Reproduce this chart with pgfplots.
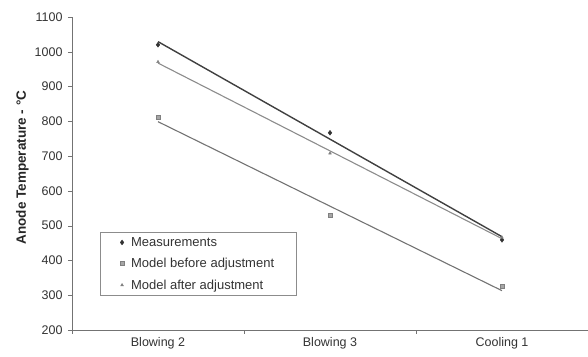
\documentclass[border=0pt]{standalone}
\usepackage{pgfplots}
\usepackage{pgfplotstable}
\pgfplotsset{compat=1.18}
\usepackage{fontspec}
\setmainfont{Liberation Sans}
\usetikzlibrary{calc}
\pgfplotstableread{
x meas before after
0 1020 812 971
1 767 530 708
2 459 326 466
}\data
\begin{document}
\begin{tikzpicture}
\begin{axis}[
  scale only axis, width=516pt, height=313pt,
  xmin=-0.5, xmax=2.5, ymin=200, ymax=1100,
  axis x line*=bottom, axis y line*=left,
  axis line style={black!55},
  tick align=outside, major tick length=4pt,
  tick style={black!55},
  xtick={-0.5,0.5,1.5,2.5}, xticklabels={},
  extra x ticks={0,1,2},
  extra x tick labels={Blowing 2,Blowing 3,Cooling 1},
  extra x tick style={major tick length=0pt, xticklabel style={yshift=-4pt}},
  ytick={200,300,...,1100},
  /pgf/number format/assume math mode=true,
  /pgf/number format/1000 sep={},
  tick label style={font=\fontsize{12.5}{14}\selectfont, color=black!80},
  yticklabel style={xshift=-2pt},
  ylabel={\bfseries Anode Temperature - °C},
  ylabel style={font=\fontsize{13.5}{15}\selectfont, color=black!85, yshift=-1pt, xshift=6pt},
  legend style={at={(0.054,0.313)}, anchor=north west, draw=black!45,
    font=\fontsize{13}{15}\selectfont, text=black!80, row sep=6.5pt,
    inner xsep=20pt, inner ysep=3pt, legend cell align=left,
    /tikz/every odd column/.append style={column sep=5pt}},
  clip=false,
]
\addplot[only marks, mark=diamond*, mark size=2.4pt, black!80] table[x=x,y=meas] {\data};
\addlegendentry{Measurements}
\addplot[only marks, mark=square*, mark size=2pt, draw=black!50, fill=black!35] table[x=x,y=before] {\data};
\addlegendentry{Model before adjustment}
\addplot[only marks, mark=triangle*, mark size=1.6pt, black!50] table[x=x,y=after] {\data};
\addlegendentry{Model after adjustment}
\addplot[forget plot, no marks, black!75, line width=1.4pt] table[x=x,y={create col/linear regression={y=meas}}] {\data};
\addplot[forget plot, no marks, black!55, line width=1.1pt] table[x=x,y={create col/linear regression={y=before}}] {\data};
\addplot[forget plot, no marks, black!45, line width=1.1pt] table[x=x,y={create col/linear regression={y=after}}] {\data};
\end{axis}
\pgfresetboundingbox
\path[use as bounding box] ($(current axis.south west)+(-72pt,-27pt)$) rectangle ($(current axis.north east)+(0pt,17pt)$);
\end{tikzpicture}
\end{document}
